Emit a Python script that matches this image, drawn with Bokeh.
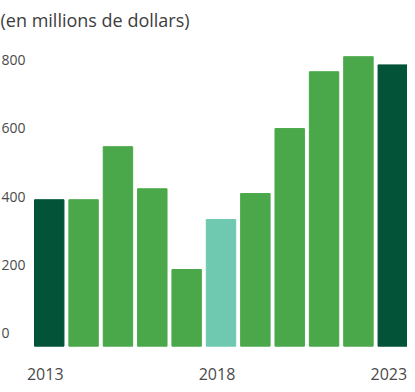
from bokeh.plotting import figure
from bokeh.models import ColumnDataSource, Range1d
from bokeh.core.properties import value
from bokeh.embed import file_html
from bokeh.resources import INLINE

years = [2013, 2014, 2015, 2016, 2017, 2018, 2019, 2020, 2021, 2022, 2023]
amounts = [428, 428, 583, 460, 224, 370, 446, 636, 802, 846, 822]
y_ticks = [0, 200, 400, 600, 800]
y_tick_labels = ["0", "200", "400", "600", "800"]
x_ticks = [2013, 2018, 2023]
x_tick_labels = ["2013", "2018", "2023"]
title_text = "(en millions de dollars)"

DARK = "#035339"
GREEN = "#4aa84a"
TEAL = "#6fc8b0"
bar_colors = [DARK, GREEN, GREEN, GREEN, GREEN, TEAL, GREEN, GREEN, GREEN, GREEN, DARK]

FONT = "Open Sans"
BAR_W = 30 / 35
x_start = 2013 - BAR_W / 2 - 0.99
x_end = 2023 + BAR_W / 2

p = figure(width=407, height=384, output_backend="svg", toolbar_location=None,
           x_range=Range1d(x_start, x_end), y_range=Range1d(-112, 905),
           x_axis_location=None, y_axis_location=None,
           min_border_left=0, min_border_right=0,
           min_border_top=0, min_border_bottom=0, outline_line_color=None)

p.title.text = title_text
p.title.text_font = FONT
p.title.text_font_size = "18px"
p.title.text_font_style = "normal"
p.title.text_color = "#3d3d3d"
p.title.align = "left"

src = ColumnDataSource(dict(x=years, top=amounts, color=bar_colors))
p.vbar(x="x", top="top", bottom=0, width=BAR_W, color="color", source=src)

# y tick labels, sitting just above their value level
ylab = ColumnDataSource(dict(x=[x_start] * len(y_ticks), y=y_ticks, t=y_tick_labels))
p.text(x="x", y="y", text="t", source=ylab, text_font=value(FONT),
       text_font_size="14px", text_color="#4a4a4a", text_align="left",
       text_baseline="middle", x_offset=1, y_offset=-12.7)

# x tick labels, below the baseline
xlab = ColumnDataSource(dict(x=x_ticks, y=[0] * len(x_ticks), t=x_tick_labels))
p.text(x="x", y="y", text="t", source=xlab, text_font=value(FONT),
       text_font_size="16px", text_color="#4a4a4a", text_align="center",
       text_baseline="middle", x_offset=-4, y_offset=27.5)

p.xgrid.visible = False
p.ygrid.visible = False

open("out.html", "w").write(file_html(p, INLINE))
